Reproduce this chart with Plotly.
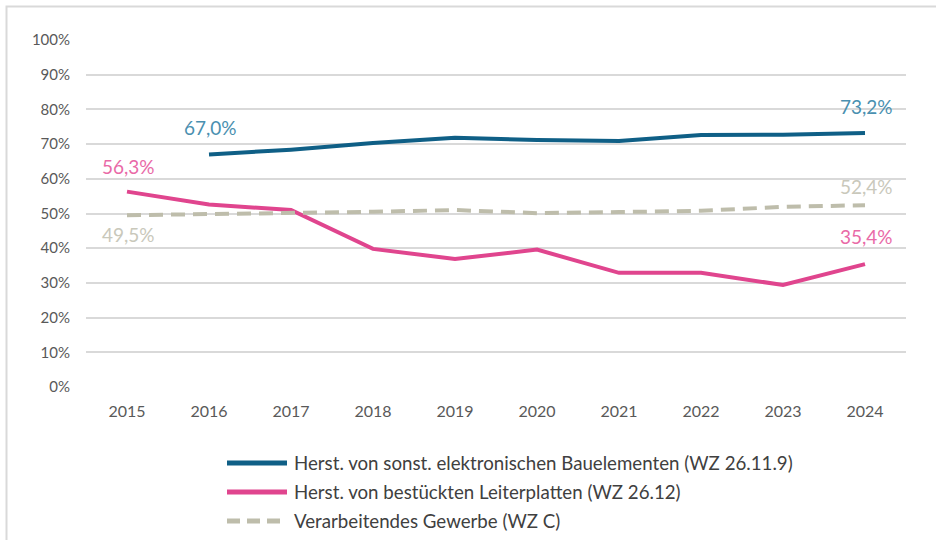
import plotly.graph_objects as go

years = ["2015", "2016", "2017", "2018", "2019", "2020", "2021", "2022", "2023", "2024"]
bauelemente = [None, 67.0, 68.4, 70.3, 71.8, 71.2, 70.9, 72.6, 72.7, 73.2]
leiterplatten = [56.3, 52.6, 51.0, 39.8, 36.9, 39.6, 32.9, 32.9, 29.4, 35.4]
gewerbe = [49.5, 49.8, 50.1, 50.5, 51.0, 50.1, 50.4, 50.8, 51.9, 52.4]

names = [
    "Herst. von sonst. elektronischen Bauelementen (WZ 26.11.9)",
    "Herst. von bestückten Leiterplatten (WZ 26.12)",
    "Verarbeitendes Gewerbe (WZ C)",
]
y_ticks = [0, 10, 20, 30, 40, 50, 60, 70, 80, 90, 100]
y_tick_labels = [f"{v}%" for v in y_ticks]

BLUE = "#0f5f86"
PINK = "#e0458e"
GRAY = "#bebdab"
BLUE_LBL = "#4a90b0"
PINK_LBL = "#e96aa7"
GRAY_LBL = "#c9c8bb"
FONT = "Lato, 'Open Sans', sans-serif"

# plot area geometry (pixels)
W, H = 936, 540
L, R, T, B = 86, 30, 40, 153
pw, ph = W - L - R, H - T - B


def px(x):
    return (x - L) / pw


def py(y):
    return (H - B - y) / ph


fig = go.Figure()
series = [
    (bauelemente, BLUE, "solid"),
    (leiterplatten, PINK, "solid"),
    (gewerbe, GRAY, "14px,8px"),
]
for (vals, col, dash), nm in zip(series, names):
    fig.add_trace(go.Scatter(
        x=years, y=vals, mode="lines", name=nm, showlegend=False,
        line=dict(color=col, width=4, dash=dash), connectgaps=False,
    ))


def fmt(v):
    return f"{v:.1f}".replace(".", ",") + "%"


# data labels: (index into years, series, colour, vertical shift)
labels = [
    (1, bauelemente, BLUE_LBL, 27),
    (9, bauelemente, BLUE_LBL, 27),
    (0, leiterplatten, PINK_LBL, 25),
    (9, leiterplatten, PINK_LBL, 28),
    (0, gewerbe, GRAY_LBL, -19),
    (9, gewerbe, GRAY_LBL, 19),
]
for i, vals, col, sh in labels:
    fig.add_annotation(x=i, y=vals[i], xref="x", yref="y", text=fmt(vals[i]),
                       showarrow=False, yshift=sh, xshift=1,
                       font=dict(family=FONT, size=19, color=col))

# custom legend
legend_rows = [463, 492, 521]
for (vals, col, dash), nm, ry in zip(series, names, legend_rows):
    fig.add_shape(type="line", xref="paper", yref="paper",
                  x0=px(227), x1=px(287), y0=py(ry), y1=py(ry),
                  line=dict(color=col, width=5, dash="13px,7px" if dash != "solid" else "solid"))
    fig.add_annotation(xref="paper", yref="paper", x=px(292), y=py(ry),
                       xanchor="left", yanchor="middle", text=nm, showarrow=False,
                       font=dict(family=FONT, size=18.7, color="#404040"))

# frame
fig.add_shape(type="rect", xref="paper", yref="paper",
              x0=px(6.5), x1=px(960), y0=py(6.5), y1=py(560),
              line=dict(color="#d9d9d9", width=2), layer="below")

fig.update_layout(
    width=W, height=H,
    margin=dict(l=L, r=R, t=T, b=B),
    paper_bgcolor="white", plot_bgcolor="white",
    font=dict(family=FONT, size=16, color="#595959"),
    xaxis=dict(type="category", range=[-0.5, 9.5], showgrid=False, zeroline=False,
               showline=False, ticks="outside", ticklen=10, tickcolor="rgba(0,0,0,0)",
               tickfont=dict(size=16, color="#595959")),
    yaxis=dict(range=[0, 100], tickvals=y_ticks, ticktext=y_tick_labels,
               showgrid=True, gridcolor="#d9d9d9", gridwidth=2, zeroline=False,
               showline=False, ticks="outside", ticklen=12, tickcolor="rgba(0,0,0,0)",
               tickfont=dict(size=15, color="#595959")),
)

fig.write_html("out.html", config={"displayModeBar": False},
               post_script="document.body.style.margin='0';")
